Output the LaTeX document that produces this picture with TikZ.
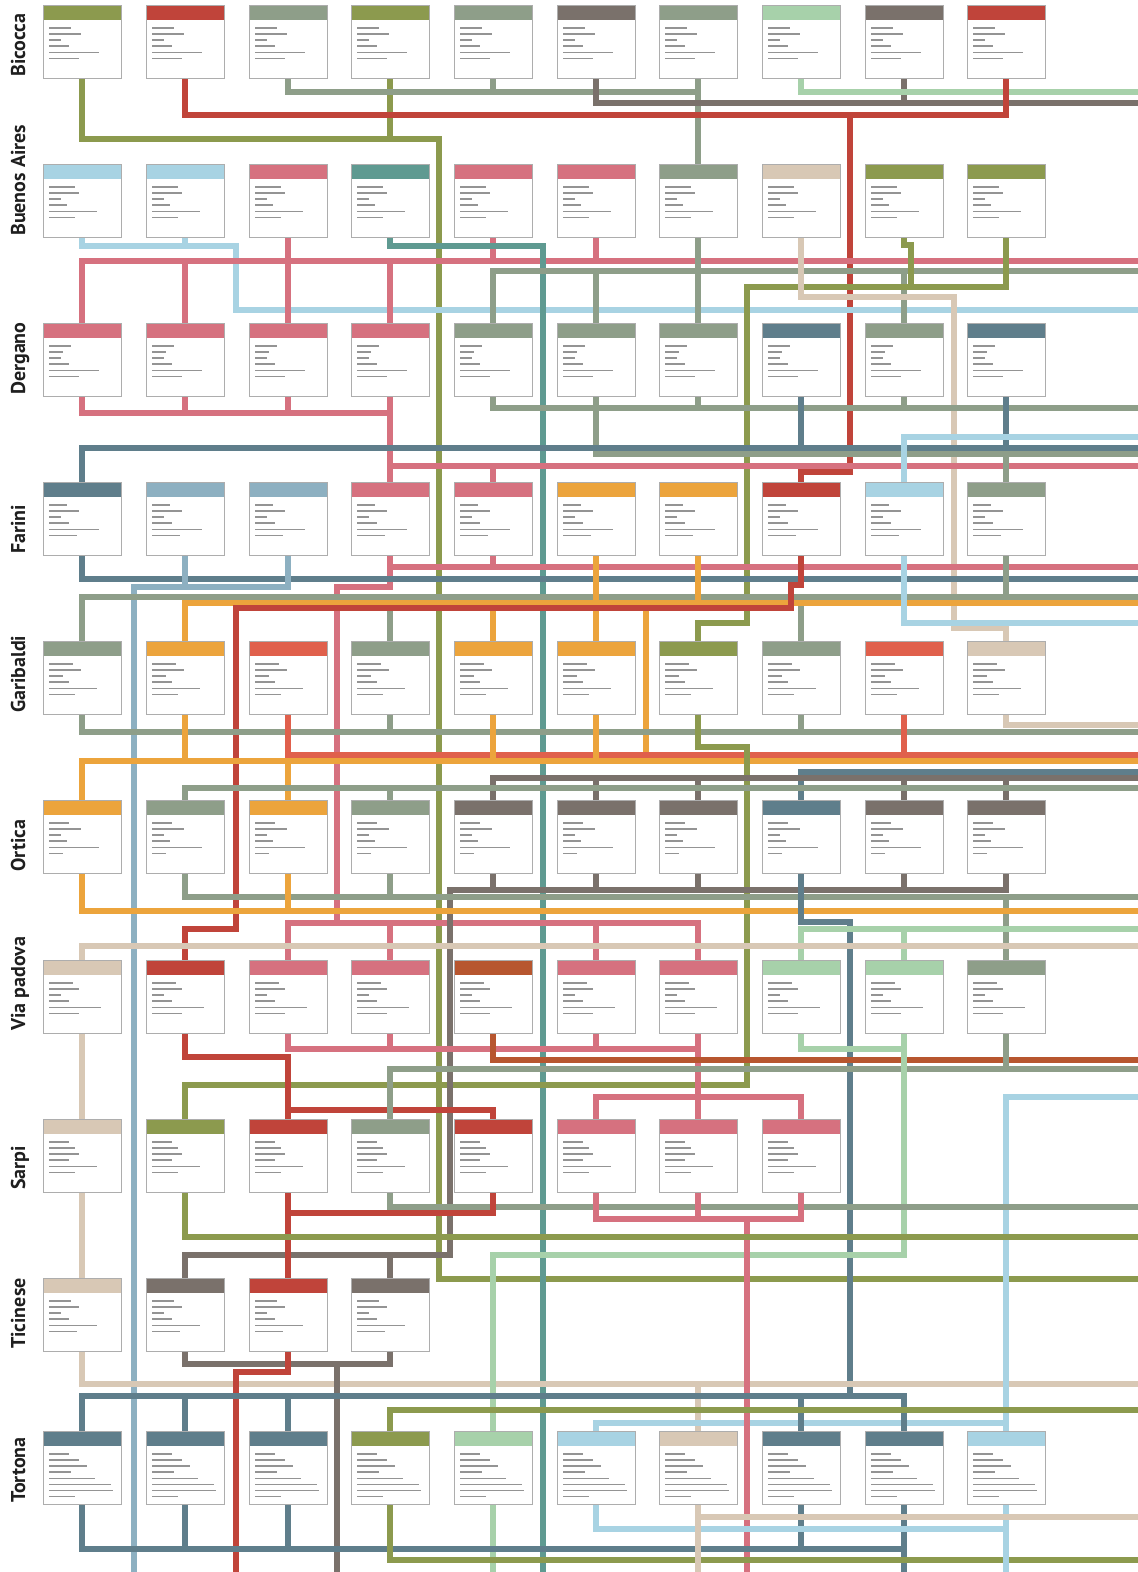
\documentclass[tikz,border=0pt]{standalone}
\usepackage{fontspec}
\newfontfamily\zonefont{PT Sans}
\pgfdeclarelayer{back}
\pgfdeclarelayer{lines}
\pgfsetlayers{back,lines,main}
\definecolor{cOlive}{HTML}{8C9A4E}
\definecolor{cRed}{HTML}{C0443A}
\definecolor{cCoral}{HTML}{E0604C}
\definecolor{cGG}{HTML}{8E9E89}
\definecolor{cDG}{HTML}{7A716B}
\definecolor{cLG}{HTML}{A7D1AA}
\definecolor{cLB}{HTML}{A8D3E3}
\definecolor{cPink}{HTML}{D6717F}
\definecolor{cTeal}{HTML}{5F9A91}
\definecolor{cBeige}{HTML}{D8C8B5}
\definecolor{cSteel}{HTML}{5F7E8B}
\definecolor{cLSteel}{HTML}{8DB0C1}
\definecolor{cOrange}{HTML}{ECA43C}
\definecolor{cRust}{HTML}{B7562F}
\tikzset{
  cardbox/.style={rectangle,draw=black!32,line width=1pt,fill=white,minimum width=78pt,minimum height=73pt,inner sep=0pt,outer sep=0pt},
  cardtxt/.style={fill=black!42},
  ln/.style={line width=5.2pt,line cap=rect},
  zlabel/.style={rotate=90,anchor=base west,inner sep=0pt,text=black!88,font=\zonefont\bfseries\fontsize{20}{20}\selectfont}
}
\newcommand\zcard[5]{%
  \node[cardbox] (#1) at (#2,#3+36.5) {};
  \fill[#4] (#2-38.5,#3+0.5) rectangle (#2+38.5,#3+14.5);
  \foreach \w [count=\j] in {#5}{\fill[cardtxt] (#2-33,#3+16+\j*6.1) rectangle ++(\w,1.4);}
}
\newcommand\zrow[4]{%
  \foreach \clr [count=\k from 0] in {#3}{%
    \pgfmathsetmacro\xx{{82,185,288,390,493,596,698,801,904,1006}[\k]}%
    \zcard{r#1c\k}{\xx}{#2}{\clr}{#4}}%
}
\begin{document}
\begin{tikzpicture}[x=1pt,y=-1pt]
\begin{pgfonlayer}{back}
\fill[white] (0,0) rectangle (1138,1572);
\end{pgfonlayer}
\useasboundingbox (0,0) rectangle (1138,1572);
% cards
\zrow{0}{5}{cOlive,cRed,cGG,cOlive,cGG,cDG,cGG,cLG,cDG,cRed}{22,32,12,20,50,30}
\zrow{1}{164}{cLB,cLB,cPink,cTeal,cPink,cPink,cGG,cBeige,cOlive,cOlive}{26,30,12,18,48,26}
\zrow{2}{323}{cPink,cPink,cPink,cPink,cGG,cGG,cGG,cSteel,cGG,cSteel}{22,14,12,20,50,30}
\zrow{3}{482}{cSteel,cLSteel,cLSteel,cPink,cPink,cOrange,cOrange,cRed,cLB,cGG}{18,30,12,20,50,28}
\zrow{4}{641}{cGG,cOrange,cCoral,cGG,cOrange,cOrange,cOlive,cGG,cCoral,cBeige}{24,32,14,20,48,26}
\zrow{5}{800}{cOrange,cGG,cOrange,cGG,cDG,cDG,cDG,cSteel,cDG,cDG}{20,32,12,18,50,14}
\zrow{6}{960}{cBeige,cRed,cPink,cPink,cRust,cPink,cPink,cLG,cLG,cGG}{24,30,12,20,52,30}
\zrow{7}{1119}{cBeige,cOlive,cRed,cGG,cRed,cPink,cPink,cPink}{20,26,30,20,48,26}
\zrow{8}{1278}{cBeige,cDG,cRed,cDG}{22,30,12,20,48,28}
\zrow{9}{1431}{cSteel,cSteel,cSteel,cOlive,cLG,cLB,cBeige,cSteel,cSteel,cLB}{20,30,38,22,46,62,64,26}
% zone labels
\node[zlabel] (zBicocca) at (25,77) {Bicocca};
\node[zlabel] (zBuenos) at (25,236) {Buenos Aires};
\node[zlabel] (zDergano) at (25,395) {Dergano};
\node[zlabel] (zFarini) at (25,554) {Farini};
\node[zlabel] (zGaribaldi) at (25,713) {Garibaldi};
\node[zlabel] (zOrtica) at (25,872) {Ortica};
\node[zlabel] (zPadova) at (25,1031) {Via padova};
\node[zlabel] (zSarpi) at (25,1190) {Sarpi};
\node[zlabel] (zTicinese) at (25,1349) {Ticinese};
\node[zlabel] (zTortona) at (25,1503) {Tortona};
\begin{pgfonlayer}{lines}
% Bicocca -> Buenos Aires
\draw[ln,cOlive] (r0c0.south) |- (439,139) -- (439,1279) -- (1138,1279) (r0c3.south) -- (390,139);
\draw[ln,cGG] (r0c2.south) |- (698,92) (r0c4.south) -- (493,92) (r0c6.south) -- (r1c6.north);
\draw[ln,cDG] (r0c5.south) |- (1138,103) (r0c8.south) -- (904,103);
\draw[ln,cLG] (r0c7.south) |- (1138,92);
\draw[ln,cRed] (r0c1.south) |- (1006,115) -- (r0c9.south) (850,115) -- (850,472) -| (r3c7.north);
% Buenos Aires -> Dergano
\draw[ln,cLB] (r1c0.south) |- (236,246) -- (236,310) -- (1138,310) (r1c1.south) -- (185,246);
\draw[ln,cPink] (82,261) -- (1138,261) (r1c2.south) -- (r2c2.north) (r1c4.south) -- (493,261) (r1c5.south) -- (596,261) (82,261) -- (r2c0.north) (185,261) -- (r2c1.north) (390,261) -- (r2c3.north);
\draw[ln,cTeal] (r1c3.south) |- (543,246) -- (543,1572);
\draw[ln,cGG] (493,271) -- (1138,271) (493,271) -- (r2c4.north) (596,271) -- (r2c5.north) (r1c6.south) -- (r2c6.north) (904,271) -- (r2c8.north);
\draw[ln,cOlive] (r1c8.south) -- (904,245) -- (911,245) -- (911,287) (r1c9.south) |- (747,287) -- (747,623) -| (r4c6.north);
\draw[ln,cBeige] (r1c7.south) |- (954,297) -- (954,628) -| (r4c9.north);
% Dergano -> Farini
\draw[ln,cPink] (r2c0.south) |- (390,413) (r2c1.south) -- (185,413) (r2c2.south) -- (288,413) (r2c3.south) -- (r3c3.north) (390,466) -- (1138,466) (r3c4.north) -- (493,466);
\draw[ln,cGG] (r2c4.south) |- (1138,408) (r2c6.south) -- (698,408) (r2c8.south) -- (904,408) (r2c5.south) |- (1138,454) (r3c9.north) -- (1006,454);
\draw[ln,cSteel] (82,448) -- (1138,448) (r2c7.south) -- (801,448) (r2c9.south) -- (1006,448) (82,448) -- (r3c0.north);
\draw[ln,cLB] (r3c8.north) |- (1138,437);
% Farini -> Garibaldi
\draw[ln,cPink] (r3c3.south) |- (337,587) -- (337,923) (288,923) -- (698,923) (288,923) -- (r6c2.north) (390,923) -- (r6c3.north) (596,923) -- (r6c5.north) (698,923) -- (r6c6.north) (390,567) -- (1138,567) (r3c4.south) -- (493,567);
\draw[ln,cSteel] (r3c0.south) |- (1138,579);
\draw[ln,cLSteel] (r3c1.south) -- (185,587) (r3c2.south) |- (134,587) -- (134,1572);
\draw[ln,cGG] (82,597) -- (1138,597) (r3c9.south) -- (1006,597) (82,597) -- (r4c0.north) (390,597) -- (r4c3.north) (801,597) -- (r4c7.north);
\draw[ln,cOrange] (185,603) -- (1138,603) (r3c5.south) -- (r4c5.north) (r3c6.south) -- (698,603) (185,603) -- (r4c1.north) (493,603) -- (r4c4.north) (646,603) -- (646,761);
\draw[ln,cRed] (r3c7.south) -- (801,585) -- (791,585) -- (791,608) -- (236,608) -- (236,929) -| (r6c1.north);
\draw[ln,cLB] (r3c8.south) |- (1138,623);
% Garibaldi -> Ortica
\draw[ln,cGG] (r4c0.south) |- (1138,732) (r4c3.south) -- (390,732) (r4c7.south) -- (801,732);
\draw[ln,cBeige] (r4c9.south) |- (1138,725);
\draw[ln,cCoral] (r4c2.south) |- (1138,755) (r4c8.south) -- (904,755);
\draw[ln,cOrange] (82,761) -- (1138,761) (r4c1.south) -- (185,761) (r4c4.south) -- (493,761) (r4c5.south) -- (596,761) (82,761) -- (r5c0.north) (288,761) -- (r5c2.north);
\draw[ln,cOlive] (r4c6.south) |- (747,747) -- (747,1085) -| (r7c1.north);
\draw[ln,cSteel] (801,772) -- (1138,772) (801,772) -- (r5c7.north);
\draw[ln,cDG] (493,778) -- (1138,778) (493,778) -- (r5c4.north) (596,778) -- (r5c5.north) (698,778) -- (r5c6.north) (904,778) -- (r5c8.north) (1006,778) -- (r5c9.north);
\draw[ln,cGG] (185,788) -- (1138,788) (185,788) -- (r5c1.north) (390,788) -- (r5c3.north);
% Ortica -> Via padova
\draw[ln,cDG] (450,890) -- (1006,890) (r5c4.south) -- (493,890) (r5c5.south) -- (596,890) (r5c6.south) -- (698,890) (r5c8.south) -- (904,890) (r5c9.south) -- (1006,890) (450,890) -- (450,1255) -- (185,1255) -- (r8c1.north) (390,1255) -- (r8c3.north);
\draw[ln,cGG] (185,897) -- (1138,897) (r5c1.south) -- (185,897) (r5c3.south) -- (390,897) (1006,897) -- (r6c9.north);
\draw[ln,cOrange] (r5c0.south) |- (1138,911) (r5c2.south) -- (288,911);
\draw[ln,cSteel] (r5c7.south) |- (850,922) -- (850,1396);
\draw[ln,cLG] (801,929) -- (1138,929) (801,929) -- (r6c7.north) (904,929) -- (r6c8.north);
\draw[ln,cBeige] (82,946) -- (1138,946) (82,946) -- (r6c0.north);
% Via padova -> Sarpi
\draw[ln,cBeige] (r6c0.south) -- (r7c0.north) (r7c0.south) -- (r8c0.north) (r8c0.south) |- (1138,1384) (698,1384) -- (r9c6.north);
\draw[ln,cRed] (r6c1.south) |- (288,1057) -- (r7c2.north) (288,1110) -- (493,1110) -- (r7c4.north);
\draw[ln,cPink] (288,1049) -- (698,1049) (r6c2.south) -- (288,1049) (r6c3.south) -- (390,1049) (r6c5.south) -- (596,1049) (r6c6.south) -- (r7c6.north) (596,1097) -- (801,1097) (596,1097) -- (r7c5.north) (801,1097) -- (r7c7.north);
\draw[ln,cRust] (r6c4.south) |- (1138,1060);
\draw[ln,cGG] (390,1069) -- (1138,1069) (390,1069) -- (r7c3.north) (r6c9.south) -- (1006,1069);
\draw[ln,cLG] (r6c7.south) |- (904,1049) (r6c8.south) -- (904,1255) -| (r9c4.north) (r9c4.south) -- (493,1572);
\draw[ln,cLB] (1138,1097) -- (1006,1097) -- (1006,1423) (596,1423) -- (1006,1423) (596,1423) -- (r9c5.north) (1006,1423) -- (r9c9.north);
% Sarpi -> Ticinese
\draw[ln,cGG] (r7c3.south) |- (1138,1207);
\draw[ln,cRed] (r7c2.south) -- (r8c2.north) (288,1213) -- (493,1213) -- (r7c4.south);
\draw[ln,cPink] (r7c5.south) |- (801,1219) -- (r7c7.south) (r7c6.south) -- (698,1219) (747,1219) -- (747,1572);
\draw[ln,cOlive] (r7c1.south) |- (1138,1237);
% Ticinese -> Tortona
\draw[ln,cDG] (r8c1.south) |- (390,1364) -- (r8c3.south) (337,1364) -- (337,1572);
\draw[ln,cRed] (r8c2.south) |- (236,1372) -- (236,1572);
\draw[ln,cSteel] (82,1396) -- (904,1396) (82,1396) -- (r9c0.north) (185,1396) -- (r9c1.north) (288,1396) -- (r9c2.north) (801,1396) -- (r9c7.north) (904,1396) -- (r9c8.north);
\draw[ln,cOlive] (390,1410) -- (1138,1410) (390,1410) -- (r9c3.north);
% below Tortona
\draw[ln,cSteel] (r9c0.south) |- (904,1549) (r9c1.south) -- (185,1549) (r9c2.south) -- (288,1549) (r9c7.south) -- (801,1549) (r9c8.south) -- (904,1572);
\draw[ln,cOlive] (r9c3.south) |- (1138,1560);
\draw[ln,cLB] (r9c5.south) |- (1006,1529) (r9c9.south) -- (1006,1572);
\draw[ln,cBeige] (r9c6.south) -- (698,1572) (698,1517) -- (1138,1517);
\end{pgfonlayer}
\end{tikzpicture}
\end{document}
